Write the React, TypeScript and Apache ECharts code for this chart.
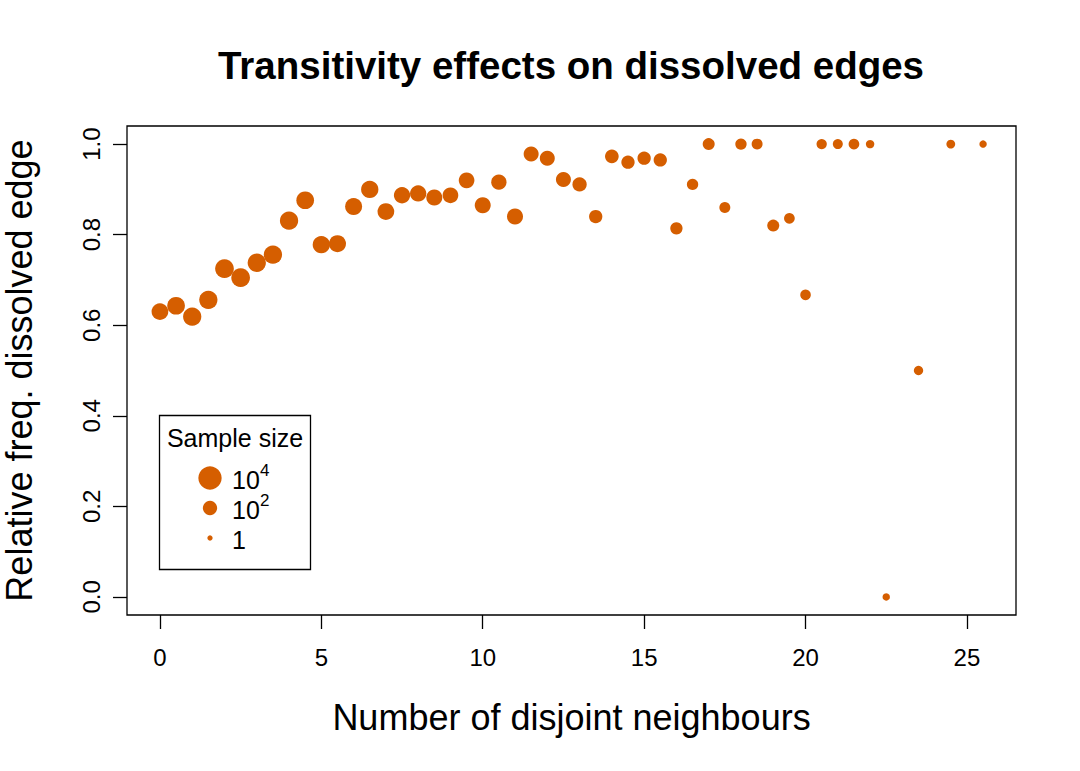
import React, { useEffect, useRef } from "react";
import * as echarts from "echarts";

const disjointNeighbours = [
  0, 0.5, 1, 1.5, 2, 2.5, 3, 3.5, 4, 4.5, 5, 5.5, 6, 6.5, 7, 7.5, 8, 8.5, 9, 9.5,
  10, 10.5, 11, 11.5, 12, 12.5, 13, 13.5, 14, 14.5, 15, 15.5, 16, 16.5, 17, 17.5,
  18, 18.5, 19, 19.5, 20, 20.5, 21, 21.5, 22, 22.5, 23.5, 24.5, 25.5,
];
const relFreqDissolved = [
  0.63, 0.643, 0.619, 0.656, 0.725, 0.705, 0.738, 0.756, 0.831, 0.876, 0.778, 0.78,
  0.862, 0.9, 0.851, 0.887, 0.891, 0.882, 0.887, 0.92, 0.865, 0.916, 0.84, 0.978,
  0.969, 0.922, 0.911, 0.84, 0.973, 0.96, 0.969, 0.965, 0.814, 0.911, 1.0, 0.86,
  1.0, 1.0, 0.82, 0.836, 0.667, 1.0, 1.0, 1.0, 1.0, 0.0, 0.5, 1.0, 1.0,
];
const sampleSize = [
  340, 570, 770, 770, 950, 950, 770, 770, 770, 570, 470, 400, 400, 470, 340, 280,
  280, 240, 205, 205, 240, 165, 240, 143, 143, 143, 100, 60, 73, 60, 60, 60, 36,
  22, 31, 18, 22, 18, 31, 16, 15, 13, 11, 16, 5, 3, 8, 6, 3,
];
const xTicks = [0, 5, 10, 15, 20, 25];
const yTicks = [0, 0.2, 0.4, 0.6, 0.8, 1.0];
const legendSizes = [10000, 100, 1];
const legendLabels = [["10", "4"], ["10", "2"], ["1", ""]];

const COLOR = "#D55E00";
const FONT = "Liberation Sans, Arial, Helvetica, sans-serif";
const sizeFor = (n: number) => 5.3 + 4.5 * Math.log10(n);

export default function App() {
  const ref = useRef<HTMLDivElement>(null);
  useEffect(() => {
    if (!ref.current) return;
    const chart = echarts.init(ref.current, undefined, { renderer: "svg" });
    const data = disjointNeighbours.map((x, i) => [x, relFreqDissolved[i], sampleSize[i]]);

    const legendGraphics: any[] = [
      {
        type: "rect",
        shape: { x: 159.5, y: 415.5, width: 151, height: 154 },
        style: { fill: "#fff", stroke: "#000", lineWidth: 1.3 },
        z: 100,
      },
      {
        type: "text",
        x: 235,
        y: 438,
        style: { text: "Sample size", font: `25px ${FONT}`, fill: "#000", align: "center", verticalAlign: "middle" },
        z: 101,
      },
    ];
    const rowY = [478, 508, 538];
    legendSizes.forEach((n, i) => {
      legendGraphics.push({
        type: "circle",
        shape: { cx: 210, cy: rowY[i], r: sizeFor(n) / 2 },
        style: { fill: COLOR },
        z: 101,
      });
      legendGraphics.push({
        type: "text",
        x: 232,
        y: rowY[i] + 2,
        style: { text: legendLabels[i][0], font: `25px ${FONT}`, fill: "#000", align: "left", verticalAlign: "middle" },
        z: 101,
      });
      if (legendLabels[i][1]) {
        legendGraphics.push({
          type: "text",
          x: 260,
          y: rowY[i] - 8,
          style: { text: legendLabels[i][1], font: `17px ${FONT}`, fill: "#000", align: "left", verticalAlign: "middle" },
          z: 101,
        });
      }
    });

    chart.setOption({
      animation: false,
      backgroundColor: "#fff",
      title: {
        text: "Transitivity effects on dissolved edges",
        left: 566,
        top: 41,
        textAlign: "center",
        textStyle: { fontFamily: FONT, fontWeight: "bold", fontSize: 38.5, color: "#000" },
      },
      grid: {
        left: 127,
        right: 64,
        top: 126,
        bottom: 156,
        show: true,
        borderColor: "#000",
        borderWidth: 1.3,
        backgroundColor: "transparent",
        containLabel: false,
        outerBoundsMode: "none",
      },
      xAxis: {
        type: "value",
        min: -1.02,
        max: 26.52,
        name: "Number of disjoint neighbours",
        nameLocation: "middle",
        nameGap: 84,
        nameTextStyle: { fontFamily: FONT, fontSize: 36, color: "#000" },
        axisLine: { show: false, onZero: false },
        splitLine: { show: false },
        axisTick: { show: true, inside: false, length: 14, customValues: xTicks, lineStyle: { color: "#000", width: 1.3 } },
        axisLabel: {
          customValues: xTicks,
          margin: 30,
          fontFamily: FONT,
          fontSize: 24,
          color: "#000",
          formatter: (v: number) => String(v),
        },
      },
      yAxis: {
        type: "value",
        min: -0.04,
        max: 1.04,
        name: "Relative freq. dissolved edge",
        nameLocation: "middle",
        nameGap: 90,
        nameTextStyle: { fontFamily: FONT, fontSize: 36, color: "#000" },
        axisLine: { show: false, onZero: false },
        splitLine: { show: false },
        axisTick: { show: true, inside: false, length: 14, customValues: yTicks, lineStyle: { color: "#000", width: 1.3 } },
        axisLabel: {
          customValues: yTicks,
          rotate: 90,
          margin: 24,
          fontFamily: FONT,
          fontSize: 24,
          color: "#000",
          formatter: (v: number) => v.toFixed(1),
        },
      },
      series: [
        {
          type: "scatter",
          data,
          symbol: "circle",
          symbolSize: (val: number[]) => sizeFor(val[2]),
          itemStyle: { color: COLOR, opacity: 1 },
          emphasis: { disabled: true },
        },
      ],
      graphic: legendGraphics,
    });
    return () => chart.dispose();
  }, []);

  return (
    <div
      ref={ref}
      style={{ position: "fixed", left: 0, top: 0, width: 1080, height: 771, background: "#fff" }}
    />
  );
}
